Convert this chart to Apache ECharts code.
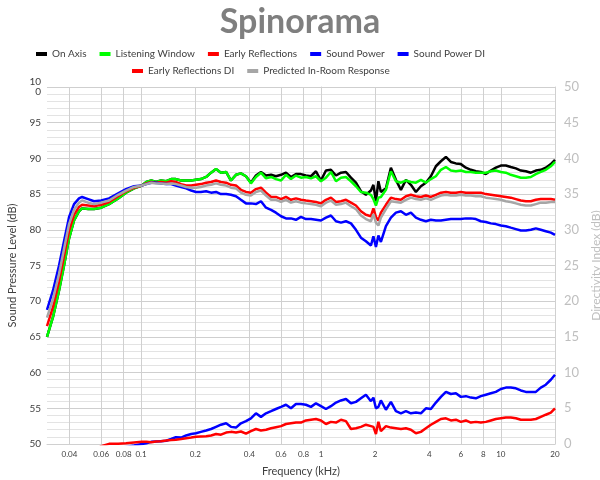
<!DOCTYPE html>
<html><head><meta charset="utf-8">
<script src="https://cdn.jsdelivr.net/npm/echarts@6/dist/echarts.min.js"></script>
<style>html,body{margin:0;padding:0;background:#fff}#c{width:600px;height:480px}</style>
</head><body><div id="c"></div>
<script>
const freqKHz = [0.030,0.0324,0.035,0.0373,0.0398,0.0424,0.0452,0.047,0.0508,0.0548,0.060,0.0664,0.0746,0.0825,0.0914,
0.101,0.107,0.114,0.121,0.129,0.138,0.147,0.156,0.167,0.178,0.190,0.202,0.215,0.230,0.245,0.261,0.278,0.297,0.316,0.337,
0.359,0.383,0.408,0.435,0.464,0.495,0.528,0.562,0.600,0.639,0.681,0.726,0.774,0.825,0.880,0.938,1.000,1.066,1.136,1.212,
1.292,1.377,1.468,1.565,1.668,1.778,1.896,1.957,2.021,2.086,
2.154,2.297,2.448,2.610,2.783,2.967,3.162,3.371,3.594,3.831,4.084,4.354,4.642,4.949,5.275,5.623,5.995,6.391,6.813,7.263,
7.743,8.254,8.799,9.380,10.00,10.66,11.36,12.12,12.92,13.77,14.68,15.65,16.68,17.78,18.96,20.00];

const onAxis = [65.0,67.8,71.5,75.0,78.8,81.3,82.6,83.0,82.9,82.9,83.1,83.6,84.4,85.2,85.8,
86.2,86.7,86.9,86.7,86.9,86.8,87.1,87.1,86.9,86.9,86.9,87.0,87.1,87.4,88.0,88.5,88.0,88.1,86.9,87.7,
87.9,87.5,86.6,87.6,88.1,87.6,87.7,87.5,87.7,88.0,87.4,87.8,87.8,87.6,87.5,88.2,86.9,88.3,88.4,87.6,
88.0,88.1,87.3,86.6,85.4,84.9,85.5,86.3,84.0,86.8,
85.3,85.8,88.7,87.0,85.6,87.0,86.3,85.3,86.1,86.6,87.5,88.9,89.6,90.2,89.5,89.3,89.2,88.7,88.4,88.2,
88.1,87.8,88.3,88.7,89.0,89.0,88.8,88.6,88.3,88.2,88.0,88.3,88.4,88.7,89.2,89.8];

const listeningWindow = [65.0,67.8,71.5,75.0,78.8,81.3,82.6,83.0,82.9,82.9,83.1,83.6,84.4,85.2,85.8,
86.2,86.7,86.9,86.7,86.9,86.8,87.1,87.1,86.9,86.9,86.9,87.0,87.1,87.4,88.0,88.5,88.0,88.1,86.9,87.7,
87.9,87.5,86.5,87.4,88.0,87.2,87.4,87.1,86.9,87.7,87.1,87.6,87.3,87.4,87.2,87.5,86.8,87.3,88.1,86.8,
87.3,87.4,86.8,86.1,85.3,85.2,84.9,84.3,83.4,84.5,
84.6,85.6,88.2,86.8,86.6,86.9,86.7,86.6,87.0,86.6,87.1,87.5,88.4,88.8,88.3,88.2,88.3,88.1,88.1,88.0,
88.0,88.0,88.2,88.3,88.1,88.0,87.7,87.5,87.3,87.3,87.4,87.8,88.1,88.4,88.9,89.5];

const earlyReflections = [66.5,69.2,72.8,76.3,79.9,82.1,83.2,83.5,83.4,83.3,83.5,83.9,84.7,85.4,85.9,
86.2,86.5,86.7,86.6,86.7,86.6,86.8,86.7,86.4,86.2,86.2,86.3,86.4,86.6,86.7,86.9,86.7,86.6,86.3,86.2,
85.6,85.3,85.2,85.7,85.9,85.2,84.6,84.6,84.3,84.6,84.2,84.4,84.2,84.1,84.0,83.9,83.7,84.2,84.5,83.9,
84.0,84.2,83.8,83.4,82.6,82.1,81.9,83.0,81.8,81.3,
82.4,83.5,84.5,84.3,84.2,84.7,84.9,84.7,84.6,84.8,84.6,84.9,85.2,85.3,85.2,85.2,85.3,85.2,85.2,85.2,
85.2,85.0,84.9,84.8,84.7,84.6,84.5,84.3,84.1,84.0,84.0,84.2,84.3,84.3,84.3,84.2];

const soundPower = [68.8,71.5,75.0,78.4,81.8,83.6,84.4,84.6,84.3,84.0,84.1,84.4,85.1,85.7,86.1,
86.2,86.4,86.6,86.6,86.5,86.4,86.4,86.2,86.0,85.8,85.5,85.3,85.3,85.4,85.2,85.3,85.0,85.0,84.9,84.7,
84.2,83.7,83.7,83.6,84.0,83.1,82.8,82.4,81.9,81.6,81.6,81.4,81.8,81.5,81.5,81.4,81.3,81.7,82.0,81.2,
81.0,81.2,80.9,80.0,78.9,78.4,77.8,79.1,77.6,79.2,
78.3,80.5,81.7,82.4,82.6,82.1,82.4,81.7,81.4,81.2,81.4,81.3,81.3,81.4,81.5,81.5,81.5,81.6,81.6,81.5,
81.2,81.1,80.9,80.8,80.6,80.5,80.3,80.1,79.9,79.9,80.0,80.2,80.0,79.8,79.6,79.3];

const soundPowerDI = [-3,-3,-2.8,-2.5,-2.5,-2.2,-2,-2,-1.8,-1.5,-1.2,-0.9,-0.6,-0.4,-0.2,
0.0,0.1,0.3,0.35,0.4,0.45,0.7,0.95,0.9,1.2,1.4,1.5,1.7,1.9,2.1,2.4,2.7,2.9,2.4,2.3,
2.9,3.2,3.6,4.3,3.8,4.3,4.6,4.9,5.2,5.5,5.0,5.6,5.6,5.5,5.2,5.7,5.3,4.9,5.3,5.8,
6.1,6.3,5.7,5.9,6.4,6.9,6.0,6.5,5.0,5.2,
6.1,4.8,5.9,4.6,4.3,4.6,4.3,4.4,4.3,5.0,4.9,5.8,6.6,7.3,7.0,7.1,6.6,6.7,6.5,6.4,
6.7,6.9,7.1,7.3,7.7,7.9,7.9,7.8,7.5,7.3,7.3,7.3,7.9,8.3,9.0,9.7];

const earlyReflectionsDI = [-3,-3,-2.5,-2.5,-2,-2,-1.5,-1.5,-1.2,-1,-0.3,0.02,0.05,0.1,0.2,
0.3,0.3,0.25,0.35,0.4,0.5,0.55,0.6,0.7,0.8,0.9,1.0,1.05,1.1,1.2,1.4,1.3,1.6,1.7,1.6,
1.75,1.45,1.8,2.1,1.9,2.0,2.2,2.35,2.5,2.8,2.9,3.0,3.0,3.3,3.4,3.5,3.3,2.8,3.1,3.0,
3.4,3.2,2.1,2.2,2.4,2.7,2.5,2.4,1.4,3.1,
1.8,2.5,2.3,2.2,2.1,2.2,2.0,1.5,1.7,2.2,2.7,3.1,3.5,3.6,3.3,3.4,3.1,3.3,3.0,3.1,
3.0,3.1,3.3,3.5,3.6,3.7,3.7,3.6,3.4,3.4,3.4,3.5,3.8,4.1,4.4,5.0];

const predictedInRoom = [67.7,70.3,73.8,77.3,80.8,82.8,83.8,84.1,83.8,83.6,83.8,84.1,84.9,85.5,86.0,
86.2,86.4,86.6,86.5,86.5,86.4,86.5,86.4,86.2,86.0,85.9,85.9,86.0,86.2,86.3,86.5,86.3,86.2,85.9,85.8,
85.2,84.9,84.8,85.3,85.5,84.8,84.2,84.2,83.9,84.2,83.8,84.0,83.8,83.7,83.6,83.5,83.3,83.8,84.1,83.5,
83.6,83.8,83.3,82.9,82.0,81.5,81.2,82.2,81.0,80.6,
81.7,82.9,84.0,83.9,83.8,84.2,84.5,84.3,84.2,84.4,84.2,84.5,84.8,84.9,84.8,84.8,84.9,84.8,84.8,84.7,
84.7,84.5,84.4,84.3,84.2,84.0,83.9,83.7,83.5,83.4,83.4,83.6,83.8,83.8,83.9,83.9];

const xTickLabels = [0.04,0.06,0.08,0.1,0.2,0.4,0.6,0.8,1,2,4,6,8,10,20];
const xMinKHz = 0.03, xMaxKHz = 20;

const FONT = 'Lato, "Open Sans", sans-serif';
const xTickPos = xTickLabels.map(v => Math.log10(v));
const toPts = arr => arr.map((v, i) => [Math.log10(freqKHz[i]), v]);

const names = ['On Axis','Listening Window','Early Reflections','Sound Power','Sound Power DI','Early Reflections DI','Predicted In-Room Response'];
const datas = [onAxis, listeningWindow, earlyReflections, soundPower, soundPowerDI, earlyReflectionsDI, predictedInRoom];
const colors = ['#000000','#00ff00','#ff0000','#0000ff','#0000ff','#ff0000','#a6a6a6'];
const axisIdx = [0,0,0,0,1,1,0];

const legendCommon = {icon:'rect', itemWidth:11, itemHeight:4, itemGap:13,
  textStyle:{fontSize:10, color:'#404040', fontFamily:FONT}};

const chart = echarts.init(document.getElementById('c'));
chart.setOption({
  animation:false,
  color: colors,
  textStyle:{fontFamily:FONT},
  title:{text:'Spinorama', left:'center', top:0,
    textStyle:{fontSize:34, fontWeight:'bold', color:'#7f7f7f', fontFamily:FONT}},
  legend:[
    Object.assign({data:names.slice(0,5), top:44, left:31}, legendCommon),
    Object.assign({data:names.slice(5), top:61, left:127}, legendCommon)
  ],
  grid:{left:47, right:45, top:87, bottom:36, containLabel:false, outerBoundsMode:'none'},
  xAxis:{type:'value', min:Math.log10(xMinKHz), max:Math.log10(xMaxKHz),
    name:'Frequency (kHz)', nameLocation:'middle', nameGap:22,
    nameTextStyle:{fontSize:11, color:'#404040'},
    axisLine:{show:true, lineStyle:{color:'#d0d0d0'}},
    axisTick:{show:false, customValues:xTickPos},
    axisLabel:{customValues:xTickPos, fontSize:8, color:'#404040', margin:6,
      formatter: v => { const t = xTickLabels.find(t => Math.abs(Math.log10(t) - v) < 1e-6); return t === undefined ? '' : String(t); }},
    splitLine:{show:true, lineStyle:{color:'#d0d0d0', width:1}}},
  yAxis:[
    {type:'value', min:50, max:100, interval:5, name:'Sound Pressure Level (dB)', nameLocation:'middle', nameGap:29, nameRotate:90,
      nameTextStyle:{fontSize:11, color:'#404040'},
      axisLine:{show:true, lineStyle:{color:'#d0d0d0'}}, axisTick:{show:false},
      axisLabel:{fontSize:10, color:'#404040', margin:6, formatter: v => v === 100 ? '10\n0' : String(v)},
      splitLine:{show:true, lineStyle:{color:'#cfcfcf'}},
      minorTick:{show:false, splitNumber:5},
      minorSplitLine:{show:true, lineStyle:{color:'#e3e3e3'}}},
    {type:'value', min:0, max:50, interval:5, position:'right', name:'Directivity Index (dB)', nameLocation:'middle', nameGap:30, nameRotate:90,
      nameTextStyle:{fontSize:12, color:'#bfbfbf'},
      axisLine:{show:true, lineStyle:{color:'#d0d0d0'}}, axisTick:{show:false},
      axisLabel:{fontSize:13, color:'#bfbfbf', margin:9},
      splitLine:{show:false}}
  ],
  series: names.map((n, i) => ({
    name:n, type:'line', yAxisIndex:axisIdx[i], data:toPts(datas[i]),
    showSymbol:false, symbol:'none', clip:true,
    lineStyle:{width:2.5, color:colors[i]}, itemStyle:{color:colors[i]}
  }))
});
</script></body></html>
